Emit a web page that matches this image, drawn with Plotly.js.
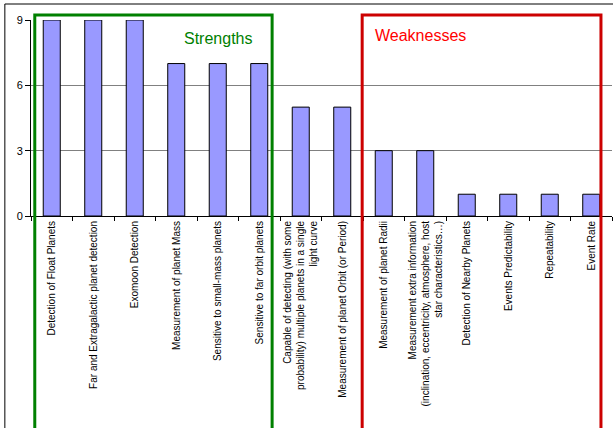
<!DOCTYPE html>
<html>
<head>
<meta charset="utf-8">
<script src="https://cdn.plot.ly/plotly-3.0.1.min.js"></script>
<style>html,body{margin:0;padding:0;background:#fff;}#chart{width:613px;height:428px;}</style>
</head>
<body>
<div id="chart"></div>
<script>
const categories = [
  "Detection of Float Planets",
  "Far and Extragalactic planet detection",
  "Exomoon Detection",
  "Measurement of planet Mass",
  "Sensitive to small-mass planets",
  "Sensitive to far orbit planets",
  "Capable of detecting (with some<br>probability) multiple planets in a single<br>light curve",
  "Measurement of planet Orbit (or Period)",
  "Measurement of planet Radii",
  "Measurement extra information<br>(inclination, eccentricity, atmosphere, host<br>star characteristics…)",
  "Detection of Nearby Planets",
  "Events Predictability",
  "Repeatability",
  "Event Rate"
];
const scores = [9, 9, 9, 7, 7, 7, 5, 5, 3, 3, 1, 1, 1, 1];
const yTicks = [0, 3, 6, 9];

const trace = {
  type: 'bar',
  x: categories,
  y: scores,
  marker: {color: '#9999FF', line: {color: '#000000', width: 1}},
  hoverinfo: 'none'
};

const layout = {
  width: 613, height: 428,
  margin: {l: 31, r: 1, t: 20, b: 212},
  paper_bgcolor: '#ffffff', plot_bgcolor: '#ffffff',
  font: {family: 'Arial, Liberation Sans, sans-serif', color: '#000000'},
  showlegend: false,
  bargap: 0.59,
  xaxis: {
    type: 'category',
    tickangle: -90,
    tickfont: {size: 10},
    showline: true, linecolor: '#000000', linewidth: 1,
    ticks: 'outside', ticklen: 4, tickcolor: '#000000',
    tickson: 'boundaries',
    showgrid: false,
    automargin: false
  },
  yaxis: {
    range: [0, 9],
    tickvals: yTicks,
    ticktext: yTicks.map(String),
    tickfont: {size: 11},
    showline: true, linecolor: '#000000', linewidth: 1,
    ticks: 'outside', ticklen: 5, tickcolor: '#000000',
    showgrid: true, gridcolor: '#808080', gridwidth: 1,
    zeroline: false,
    automargin: false
  },
  shapes: [
    {type: 'rect', xref: 'paper', yref: 'paper', x0: -0.045, x1: 1.1, y0: -1.2, y1: 1.0816,
     line: {color: '#000000', width: 1}, fillcolor: 'rgba(0,0,0,0)', layer: 'below'},
    {type: 'rect', xref: 'paper', yref: 'paper', x0: 0.0065, x1: 0.415, y0: -1.2, y1: 1.026,
     line: {color: '#008000', width: 3}, fillcolor: 'rgba(0,0,0,0)'},
    {type: 'rect', xref: 'paper', yref: 'paper', x0: 0.570, x1: 0.981, y0: -1.2, y1: 1.026,
     line: {color: '#CC0000', width: 3}, fillcolor: 'rgba(0,0,0,0)'}
  ],
  annotations: [
    {text: 'Strengths', xref: 'paper', yref: 'paper', x: 0.322, y: 0.908,
     xanchor: 'center', yanchor: 'middle',
     showarrow: false, font: {size: 16, color: '#008000'}},
    {text: 'Weaknesses', xref: 'paper', yref: 'paper', x: 0.670, y: 0.923,
     xanchor: 'center', yanchor: 'middle',
     showarrow: false, font: {size: 16, color: '#FF0000'}}
  ]
};

Plotly.newPlot('chart', [trace], layout, {staticPlot: true, displayModeBar: false});
</script>
</body>
</html>
